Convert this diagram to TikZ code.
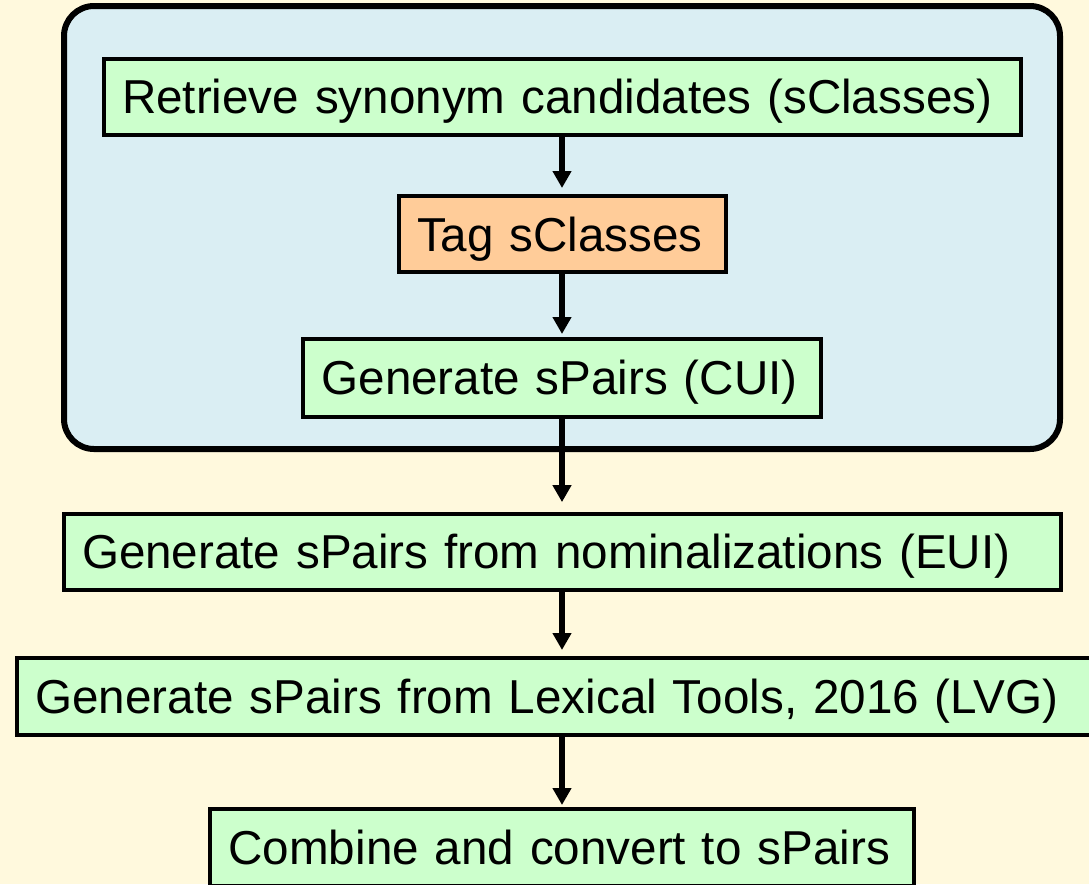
\documentclass[tikz,border=0pt]{standalone}
\usepackage{fontspec}
\setmainfont{Liberation Sans}
\usetikzlibrary{arrows.meta}
\definecolor{bgcream}{HTML}{FFF9DD}
\definecolor{panelblue}{HTML}{DAEEF3}
\definecolor{boxgreen}{HTML}{CCFFCC}
\definecolor{boxorange}{HTML}{FFCC99}
\begin{document}
\begin{tikzpicture}[x=1pt,y=-1pt,
  panel/.style={draw=black, line width=6pt, fill=panelblue, rounded corners=30pt},
  stepbox/.style={draw=black, line width=4pt, fill=boxgreen, inner xsep=0pt, inner ysep=0pt,
    text height=34.1pt, text depth=0pt, align=left, font=\fontsize{47.6pt}{56pt}\selectfont},
  tagbox/.style={stepbox, fill=boxorange},
  flow/.style={line width=5.5pt, -{Triangle[width=18pt,length=17pt]}}]
\fill[bgcream] (0,0) rectangle (1089,884);
\useasboundingbox (0,0) rectangle (1089,884);
\node[panel, minimum width=996pt, minimum height=443pt] (grp) at (562,227.5) {};
\node[stepbox, minimum width=917pt, minimum height=76.5pt, text width=880pt] (retr) at (562,96.75)
  {\mbox{Retrieve synonym candidates (sClasses)}};
\node[tagbox, minimum width=327pt, minimum height=76pt, text width=290pt] (tag) at (562,234)
  {\mbox{Tag sClasses}};
\node[stepbox, minimum width=518pt, minimum height=77.5pt, text width=481pt] (cui) at (562,377.75)
  {\mbox{Generate sPairs (CUI)}};
\node[stepbox, minimum width=997pt, minimum height=76pt, text width=960pt] (eui) at (562,551.6)
  {\mbox{Generate sPairs from nominalizations (EUI)}};
\node[stepbox, minimum width=1090pt, minimum height=77pt, text width=1053pt] (lvg) at (562,696.5)
  {\mbox{Generate sPairs from Lexical Tools, 2016 (LVG)}};
\node[stepbox, minimum width=704pt, minimum height=77pt, text width=667pt] (comb) at (562,847.5)
  {\mbox{Combine and convert to sPairs}};
\draw[flow, shorten >=6pt] (retr.south) -- (tag.north);
\draw[flow, shorten >=3pt] (tag.south) -- (cui.north);
\draw[flow, shorten >=9.5pt] (cui.south) -- (eui.north);
\draw[flow, shorten >=6pt] (eui.south) -- (lvg.north);
\draw[flow, shorten >=2pt] (lvg.south) -- (comb.north);
\end{tikzpicture}
\end{document}
